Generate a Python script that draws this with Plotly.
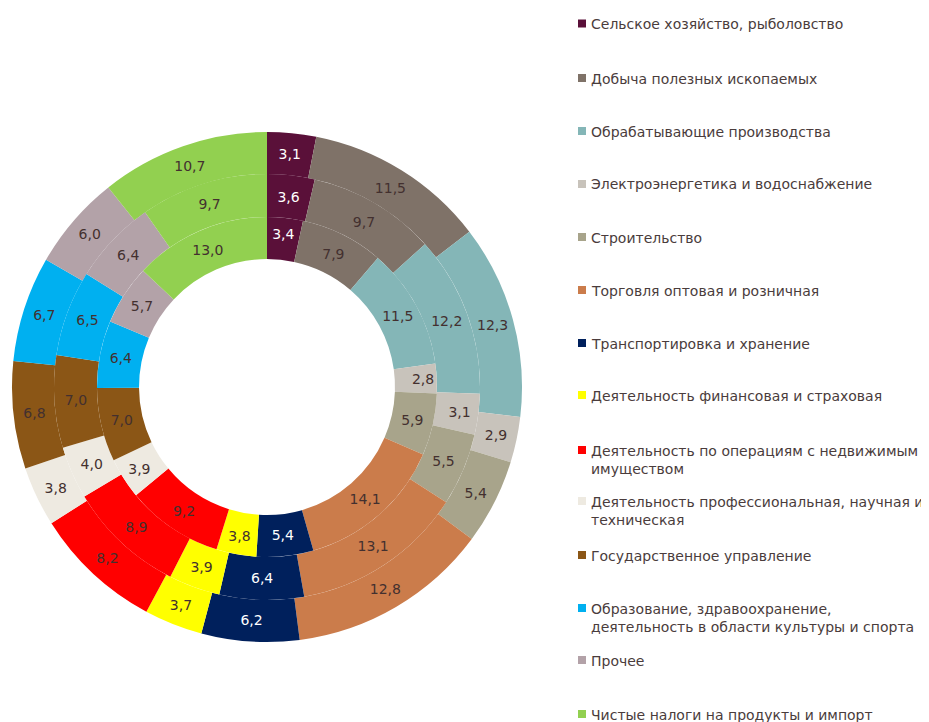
import plotly.graph_objects as go

categories = [
    "Сельское хозяйство, рыболовство",
    "Добыча полезных ископаемых",
    "Обрабатывающие производства",
    "Электроэнергетика и водоснабжение",
    "Строительство",
    "Торговля оптовая и розничная",
    "Транспортировка и хранение",
    "Деятельность финансовая и страховая",
    "Деятельность по операциям с недвижимым<br>имуществом",
    "Деятельность профессиональная, научная и<br>техническая",
    "Государственное управление",
    "Образование, здравоохранение,<br>деятельность в области культуры и спорта",
    "Прочее",
    "Чистые налоги на продукты и импорт",
]
inner_values = [3.4, 7.9, 11.5, 2.8, 5.9, 14.1, 5.4, 3.8, 9.2, 3.9, 7.0, 6.4, 5.7, 13.0]
middle_values = [3.6, 9.7, 12.2, 3.1, 5.5, 13.1, 6.4, 3.9, 8.9, 4.0, 7.0, 6.5, 6.4, 9.7]
outer_values = [3.1, 11.5, 12.3, 2.9, 5.4, 12.8, 6.2, 3.7, 8.2, 3.8, 6.8, 6.7, 6.0, 10.7]

colors = ["#5A1039", "#7F7268", "#84B6B7", "#C8C3BB", "#A8A48B", "#CB7C4B", "#00205C",
          "#FFFF00", "#FF0000", "#EEEAE1", "#8B5616", "#00B0F0", "#B3A2A8", "#92D050"]
label_colors = ["#FFFFFF", "#43302F", "#43302F", "#43302F", "#43302F", "#43302F", "#FFFFFF",
                "#43302F", "#43302F", "#43302F", "#43302F", "#43302F", "#43302F", "#43302F"]

# the page body adds an 8px margin, so the figure is 8px smaller and coordinates are shifted
OFF = 8
W, H = 929 - OFF, 722 - OFF
CX, CY = 267 - OFF, 387 - OFF  # centre in pixels from top-left of the figure
FONT = "DejaVu Sans"


def fmt(v):
    return f"{v:.1f}".replace(".", ",")


def ring(values, r_out, r_in):
    cyb = H - CY
    return go.Pie(
        values=values,
        labels=categories,
        text=[fmt(v) for v in values],
        textinfo="text",
        textposition="inside",
        insidetextorientation="horizontal",
        sort=False,
        direction="clockwise",
        rotation=0,
        hole=r_in / r_out,
        marker=dict(colors=colors, line=dict(width=0)),
        textfont=dict(family=FONT, size=14, color=label_colors),
        domain=dict(x=[(CX - r_out) / W, (CX + r_out) / W],
                    y=[(cyb - r_out) / H, (cyb + r_out) / H]),
        hoverinfo="label+value",
        showlegend=False,
    )


fig = go.Figure()
fig.add_trace(ring(outer_values, 255, 213))
fig.add_trace(ring(middle_values, 213, 170))
fig.add_trace(ring(inner_values, 170, 128))

# manual legend (to reproduce the even spacing of the original)
legend_y = [23.5, 78, 131, 184, 237, 290, 343, 395, 450, 501, 555, 608, 660, 714]
shapes = []
annotations = []
for cat, col, y in zip(categories, colors, legend_y):
    yy = y - OFF
    shapes.append(dict(type="rect", xref="paper", yref="paper",
                       x0=(578 - OFF) / W, x1=(586 - OFF) / W,
                       y0=(H - yy - 4) / H, y1=(H - yy + 4) / H,
                       fillcolor=col, line=dict(width=0)))
    annotations.append(dict(xref="paper", yref="paper", x=(589 - OFF) / W, y=(H - yy + 9.5) / H,
                            xanchor="left", yanchor="top", align="left", showarrow=False,
                            text=cat, font=dict(family=FONT, size=14, color="#4A3C3C")))

fig.update_layout(
    width=W, height=H,
    margin=dict(l=0, r=0, t=0, b=0),
    paper_bgcolor="white", plot_bgcolor="white",
    shapes=shapes, annotations=annotations,
    showlegend=False,
)

fig.write_html("out.html")
